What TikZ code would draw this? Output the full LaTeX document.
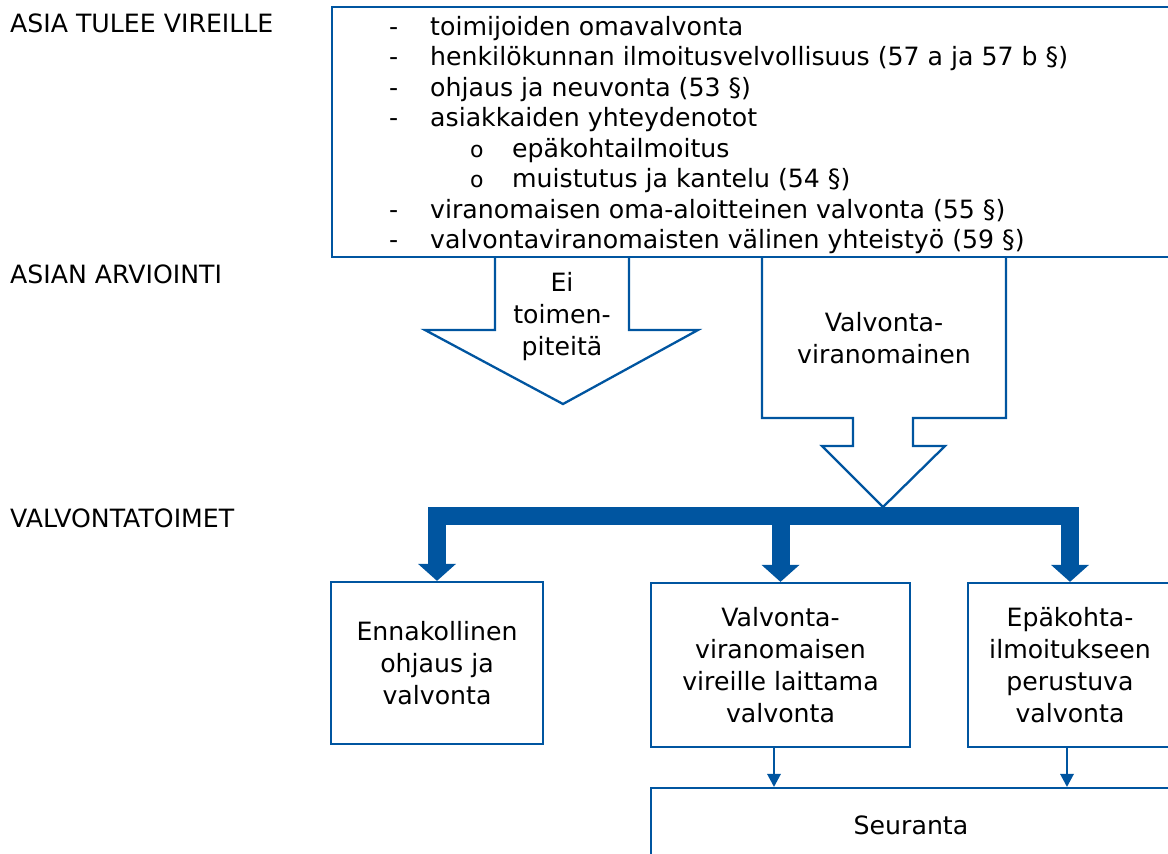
\documentclass[tikz,border=0pt]{standalone}
\usepackage{fontspec}
\setmainfont{DejaVu Sans}
\usetikzlibrary{arrows.meta}
\definecolor{sininen}{RGB}{0,85,160}
\newcommand{\reunavari}{sininen}
\tikzset{
  isokarki/.tip={Triangle[width=38pt,length=17pt,line width=0pt]},
  pienikarki/.tip={Triangle[width=14pt,length=13pt,line width=0pt]},
  teksti/.style={inner sep=0pt, font=\fontsize{25.2}{32}\selectfont},
  rivi/.style={teksti, anchor=base west},
  laatikko/.style={teksti, draw=\reunavari, line width=2.3pt, align=center},
  nuoli/.style={draw=\reunavari, line width=2.3pt, line join=miter},
  haara/.style={draw=\reunavari, line width=18pt, isokarki-isokarki},
  ohut/.style={draw=\reunavari, line width=1.5pt, -pienikarki},
}
\begin{document}
\begin{tikzpicture}[x=1pt, y=-1pt]
  \useasboundingbox (0,0) rectangle (1168,854);

  % vaiheet vasemmalla
  \node[rivi] (vaihe1) at (10,32) {ASIA TULEE VIREILLE};
  \node[rivi] (vaihe2) at (10,283) {ASIAN ARVIOINTI};
  \node[rivi] (vaihe3) at (10,527) {VALVONTATOIMET};

  % ylin laatikko
  \node[laatikko, minimum width=840pt, minimum height=250pt] (lahde) at (752,132) {};

  \node[rivi] (d1) at (389,35) {-};
  \node[rivi] (d2) at (389,65.5) {-};
  \node[rivi] (d3) at (389,96) {-};
  \node[rivi] (d4) at (389,126.5) {-};
  \node[rivi, font=\fontsize{22}{22}\selectfont] (o1) at (470,157) {o};
  \node[rivi, font=\fontsize{22}{22}\selectfont] (o2) at (470,187.5) {o};
  \node[rivi] (d7) at (389,218) {-};
  \node[rivi] (d8) at (389,248.5) {-};

  \node[rivi] (r1) at (430,35) {toimijoiden omavalvonta};
  \node[rivi] (r2) at (430,65.5) {henkilökunnan ilmoitusvelvollisuus (57 a ja 57 b §)};
  \node[rivi] (r3) at (430,96) {ohjaus ja neuvonta (53 §)};
  \node[rivi] (r4) at (430,126.5) {asiakkaiden yhteydenotot};
  \node[rivi] (r5) at (512,157) {epäkohtailmoitus};
  \node[rivi] (r6) at (512,187.5) {muistutus ja kantelu (54 §)};
  \node[rivi] (r7) at (430,218) {viranomaisen oma-aloitteinen valvonta (55 §)};
  \node[rivi] (r8) at (430,248.5) {valvontaviranomaisten välinen yhteistyö (59 §)};

  % arviointi
  \draw[nuoli] (495,257) -- (495,330) -- (425,330) -- (563,404) -- (698,330)
    -- (629,330) -- (629,257);
  \node[teksti, align=center] (ei) at (562,317) {Ei\\toimen-\\piteitä};

  \draw[nuoli] (762,257) -- (762,418) -- (853,418) -- (853,446) -- (822,446)
    -- (883,507) -- (945,446) -- (913,446) -- (913,418) -- (1006,418) -- (1006,257);
  \node[teksti, align=center] (viranomainen) at (884,338) {Valvonta-\\viranomainen};
  \coordinate (jako) at (883,516);

  % valvontatoimet
  \node[laatikko, minimum width=212pt, minimum height=162pt] (ennakko) at (437,663)
    {Ennakollinen\\ohjaus ja\\valvonta};
  \node[laatikko, minimum width=259pt, minimum height=164pt] (vireille) at (780.5,665)
    {Valvonta-\\viranomaisen\\vireille laittama\\valvonta};
  \node[laatikko, minimum width=204pt, minimum height=164pt] (epakohta) at (1070,665)
    {Epäkohta-\\ilmoitukseen\\perustuva\\valvonta};
  \node[laatikko, minimum width=520pt, minimum height=74pt] (seuranta) at (911,825)
    {Seuranta};

  \draw[haara] (ennakko.north) |- (jako) -| (epakohta.north);
  \draw[haara, -isokarki] (jako -| vireille.north) -- (vireille.north);

  \draw[ohut] ([xshift=-6.5pt]vireille.south) -- ([xshift=-6.5pt]vireille.south |- seuranta.north);
  \draw[ohut] ([xshift=-3pt]epakohta.south) -- ([xshift=-3pt]epakohta.south |- seuranta.north);

\end{tikzpicture}
\end{document}
